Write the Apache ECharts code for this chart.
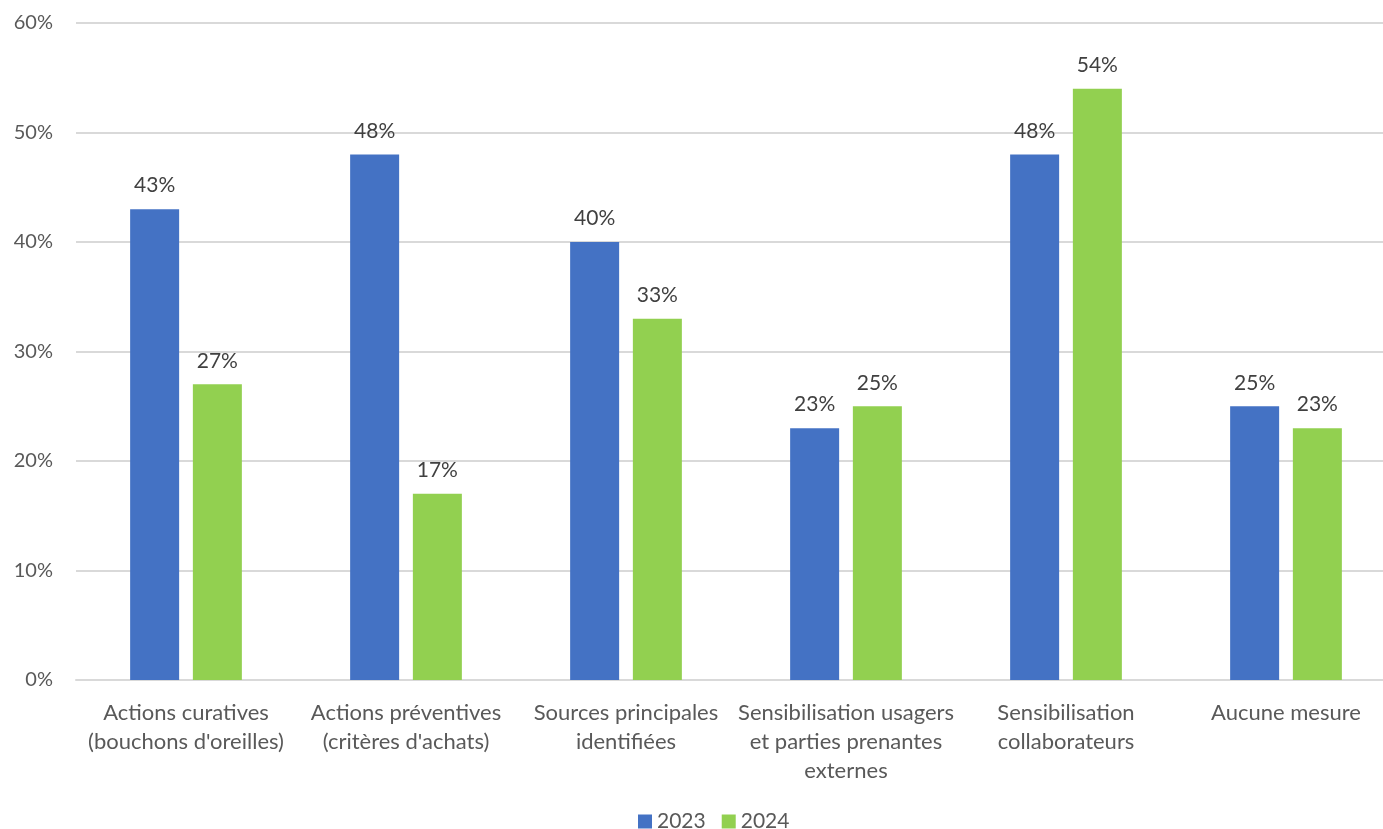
<!DOCTYPE html>
<html>
<head>
<meta charset="utf-8">
<script src="https://cdn.jsdelivr.net/npm/echarts@6/dist/echarts.min.js"></script>
<style>
  html, body { margin: 0; padding: 0; background: #fff; }
  #chart { width: 1383px; height: 829px; }
</style>
</head>
<body>
<div id="chart"></div>
<script>
var categories = [
  "Actions curatives\n(bouchons d'oreilles)",
  "Actions préventives\n(critères d'achats)",
  "Sources principales\nidentifiées",
  "Sensibilisation usagers\net parties prenantes\nexternes",
  "Sensibilisation\ncollaborateurs",
  "Aucune mesure"
];
var values2023 = [43, 48, 40, 23, 48, 25];
var values2024 = [27, 17, 33, 25, 54, 23];
var yTicks = [0, 10, 20, 30, 40, 50, 60];

var font = "Lato, 'Noto Sans', sans-serif";
var chart = echarts.init(document.getElementById("chart"));

var labelStyle = {
  show: true,
  position: "top",
  distance: 13,
  formatter: "{c}%",
  color: "#404040",
  fontSize: 21,
  fontFamily: font
};

chart.setOption({
  animation: false,
  grid: {
    left: 76,
    width: 1320,
    top: 23,
    bottom: 149,
    containLabel: false,
    outerBoundsMode: "none"
  },
  legend: {
    bottom: -8,
    left: 633,
    itemWidth: 14,
    itemHeight: 14,
    itemGap: 16,
    icon: "rect",
    textStyle: { color: "#595959", fontSize: 21, fontFamily: font },
    data: ["2023", "2024"]
  },
  xAxis: {
    type: "category",
    data: categories,
    axisLine: { lineStyle: { color: "#d9d9d9", width: 2 } },
    axisTick: { show: false },
    axisLabel: {
      interval: 0,
      color: "#595959",
      fontSize: 22,
      fontFamily: font,
      lineHeight: 29,
      margin: 18
    }
  },
  yAxis: {
    type: "value",
    min: yTicks[0],
    max: yTicks[yTicks.length - 1],
    interval: 10,
    axisLine: { show: false },
    axisTick: { show: false },
    splitLine: { lineStyle: { color: "#d9d9d9", width: 2 } },
    axisLabel: {
      formatter: "{value}%",
      color: "#595959",
      fontSize: 20,
      fontFamily: font,
      margin: 23
    }
  },
  series: [
    {
      name: "2023",
      type: "bar",
      data: values2023,
      barWidth: 49,
      barGap: "28%",
      itemStyle: { color: "#4472c4" },
      label: labelStyle
    },
    {
      name: "2024",
      type: "bar",
      data: values2024,
      barWidth: 49,
      itemStyle: { color: "#92d050" },
      label: labelStyle
    }
  ]
});
</script>
</body>
</html>
